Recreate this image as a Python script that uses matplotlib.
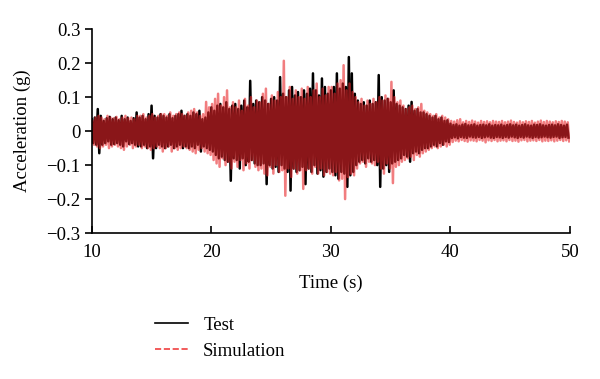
import numpy as np
import matplotlib
matplotlib.use('Agg')
from matplotlib import pyplot as plt
from matplotlib.lines import Line2D

plt.rcParams['font.family'] = ['Liberation Serif', 'DejaVu Serif']
plt.rcParams['font.size'] = 13.5

# Peak / trough values, one pair every 0.25 s (10 s to 50 s)
test_hi = [
    0.035, 0.040, 0.065, 0.045, 0.030, 0.038, 0.042, 0.035,
    0.040, 0.032, 0.045, 0.035, 0.040, 0.030, 0.038, 0.055,
    0.040, 0.045, 0.035, 0.050, 0.075, 0.045, 0.040, 0.050,
    0.045, 0.040, 0.050, 0.038, 0.045, 0.050, 0.060, 0.045,
    0.050, 0.045, 0.055, 0.050, 0.060, 0.035, 0.040, 0.055,
    0.070, 0.060, 0.075, 0.080, 0.070, 0.085, 0.065, 0.075,
    0.080, 0.065, 0.075, 0.090, 0.070, 0.148, 0.080, 0.090,
    0.085, 0.100, 0.090, 0.080, 0.095, 0.100, 0.090, 0.159,
    0.110, 0.100, 0.120, 0.130, 0.105, 0.115, 0.100, 0.120,
    0.110, 0.125, 0.170, 0.120, 0.105, 0.155, 0.130, 0.110,
    0.120, 0.130, 0.170, 0.125, 0.140, 0.130, 0.218, 0.170,
    0.110, 0.090, 0.080, 0.085, 0.075, 0.090, 0.080, 0.085,
    0.165, 0.100, 0.090, 0.095, 0.085, 0.120, 0.080, 0.075,
    0.070, 0.065, 0.075, 0.086, 0.060, 0.065, 0.055, 0.055,
    0.050, 0.045, 0.040, 0.045, 0.035, 0.040, 0.030, 0.032,
    0.022, 0.018, 0.020, 0.016, 0.019, 0.021, 0.017, 0.018,
    0.020, 0.016, 0.018, 0.019, 0.017, 0.020, 0.016, 0.018,
    0.017, 0.019, 0.016, 0.018, 0.020, 0.017, 0.019, 0.016,
    0.018, 0.020, 0.017, 0.016, 0.019, 0.018, 0.020, 0.017,
    0.016, 0.018, 0.019, 0.017, 0.020, 0.018, 0.016, 0.019,
]
test_lo = [
    -0.035, -0.040, -0.065, -0.040, -0.035, -0.030, -0.040, -0.038,
    -0.035, -0.040, -0.045, -0.030, -0.038, -0.035, -0.040, -0.045,
    -0.045, -0.040, -0.050, -0.045, -0.080, -0.050, -0.040, -0.045,
    -0.050, -0.045, -0.040, -0.050, -0.045, -0.040, -0.050, -0.045,
    -0.050, -0.045, -0.050, -0.040, -0.060, -0.045, -0.050, -0.055,
    -0.060, -0.070, -0.080, -0.075, -0.085, -0.090, -0.146, -0.080,
    -0.085, -0.110, -0.080, -0.100, -0.090, -0.085, -0.095, -0.100,
    -0.100, -0.095, -0.156, -0.100, -0.110, -0.105, -0.120, -0.100,
    -0.110, -0.120, -0.175, -0.110, -0.120, -0.115, -0.105, -0.156,
    -0.110, -0.120, -0.100, -0.125, -0.115, -0.134, -0.120, -0.110,
    -0.120, -0.130, -0.140, -0.120, -0.125, -0.164, -0.130, -0.120,
    -0.100, -0.090, -0.085, -0.095, -0.080, -0.090, -0.085, -0.100,
    -0.164, -0.110, -0.100, -0.120, -0.095, -0.090, -0.085, -0.080,
    -0.070, -0.075, -0.090, -0.065, -0.060, -0.065, -0.055, -0.050,
    -0.050, -0.045, -0.040, -0.045, -0.035, -0.040, -0.030, -0.032,
    -0.020, -0.018, -0.021, -0.017, -0.019, -0.020, -0.016, -0.018,
    -0.019, -0.017, -0.020, -0.018, -0.016, -0.019, -0.020, -0.017,
    -0.018, -0.020, -0.017, -0.019, -0.016, -0.018, -0.020, -0.017,
    -0.019, -0.016, -0.018, -0.020, -0.017, -0.019, -0.018, -0.016,
    -0.018, -0.019, -0.017, -0.016, -0.020, -0.018, -0.017, -0.019,
]
sim_hi = [
    0.030, 0.040, 0.045, 0.040, 0.035, 0.045, 0.040, 0.038,
    0.042, 0.035, 0.040, 0.045, 0.038, 0.040, 0.035, 0.045,
    0.045, 0.050, 0.040, 0.045, 0.050, 0.040, 0.045, 0.050,
    0.050, 0.045, 0.055, 0.045, 0.050, 0.055, 0.050, 0.045,
    0.055, 0.060, 0.065, 0.055, 0.045, 0.050, 0.086, 0.070,
    0.080, 0.095, 0.110, 0.075, 0.100, 0.120, 0.070, 0.085,
    0.070, 0.090, 0.060, 0.095, 0.075, 0.100, 0.070, 0.090,
    0.085, 0.110, 0.125, 0.080, 0.105, 0.090, 0.115, 0.100,
    0.207, 0.100, 0.130, 0.095, 0.120, 0.100, 0.125, 0.095,
    0.130, 0.100, 0.120, 0.140, 0.100, 0.125, 0.105, 0.130,
    0.130, 0.110, 0.140, 0.150, 0.194, 0.120, 0.140, 0.115,
    0.100, 0.085, 0.095, 0.075, 0.090, 0.080, 0.095, 0.085,
    0.100, 0.090, 0.105, 0.095, 0.145, 0.100, 0.085, 0.090,
    0.075, 0.065, 0.070, 0.075, 0.065, 0.070, 0.080, 0.060,
    0.055, 0.050, 0.045, 0.050, 0.040, 0.045, 0.040, 0.035,
    0.030, 0.028, 0.032, 0.035, 0.026, 0.030, 0.027, 0.031,
    0.028, 0.025, 0.030, 0.027, 0.029, 0.026, 0.030, 0.028,
    0.027, 0.030, 0.026, 0.028, 0.031, 0.027, 0.025, 0.029,
    0.026, 0.029, 0.027, 0.030, 0.025, 0.028, 0.031, 0.027,
    0.030, 0.028, 0.026, 0.029, 0.027, 0.030, 0.028, 0.026,
]
sim_lo = [
    -0.040, -0.045, -0.050, -0.045, -0.040, -0.050, -0.045, -0.040,
    -0.045, -0.050, -0.055, -0.045, -0.040, -0.050, -0.045, -0.040,
    -0.050, -0.045, -0.050, -0.055, -0.050, -0.045, -0.050, -0.060,
    -0.050, -0.045, -0.060, -0.050, -0.055, -0.050, -0.045, -0.050,
    -0.055, -0.060, -0.065, -0.055, -0.050, -0.060, -0.065, -0.070,
    -0.085, -0.095, -0.105, -0.080, -0.100, -0.090, -0.110, -0.090,
    -0.105, -0.085, -0.115, -0.095, -0.110, -0.085, -0.105, -0.115,
    -0.110, -0.125, -0.130, -0.105, -0.125, -0.100, -0.120, -0.115,
    -0.190, -0.110, -0.135, -0.110, -0.125, -0.115, -0.170, -0.115,
    -0.110, -0.125, -0.105, -0.125, -0.110, -0.130, -0.120, -0.125,
    -0.130, -0.120, -0.145, -0.140, -0.200, -0.135, -0.125, -0.130,
    -0.110, -0.095, -0.090, -0.105, -0.090, -0.095, -0.100, -0.090,
    -0.110, -0.125, -0.095, -0.110, -0.153, -0.105, -0.100, -0.090,
    -0.085, -0.080, -0.075, -0.085, -0.070, -0.075, -0.065, -0.060,
    -0.055, -0.050, -0.045, -0.050, -0.045, -0.040, -0.045, -0.040,
    -0.032, -0.028, -0.030, -0.026, -0.029, -0.031, -0.027, -0.028,
    -0.030, -0.026, -0.028, -0.033, -0.027, -0.029, -0.026, -0.030,
    -0.028, -0.027, -0.030, -0.026, -0.029, -0.028, -0.031, -0.027,
    -0.026, -0.030, -0.028, -0.027, -0.029, -0.026, -0.030, -0.028,
    -0.029, -0.027, -0.030, -0.028, -0.026, -0.029, -0.027, -0.030,
]

y_ticks = [-0.3, -0.2, -0.1, 0, 0.1, 0.2, 0.3]
y_tick_labels = ['\u22120.3', '\u22120.2', '\u22120.1', '0', '0.1', '0.2', '0.3']
x_ticks = [10, 20, 30, 40, 50]

step = 0.25
t = 10 + step * np.arange(len(test_hi))


def zigzag(hi, lo, shift):
    # alternate peak and trough so the record reads as a dense trace
    x = np.empty(2 * len(hi))
    y = np.empty(2 * len(hi))
    x[0::2] = t + shift
    x[1::2] = t + shift + step / 2
    y[0::2] = hi
    y[1::2] = lo
    return x, y


fig = plt.figure(figsize=(6, 3.79), dpi=100)
ax = fig.add_axes([0.153, 0.385, 0.797, 0.538])

tx, ty = zigzag(test_hi, test_lo, 0.0)
sx, sy = zigzag(sim_hi, sim_lo, step / 4)
ax.plot(tx, ty, color='black', lw=1.8)
ax.plot(sx, sy, color='#e8262a', lw=1.8, alpha=0.6)

ax.set_xlim(10, 50)
ax.set_ylim(-0.3, 0.3)
ax.set_xticks(x_ticks)
ax.set_yticks(y_ticks)
ax.set_yticklabels(y_tick_labels)
ax.spines['top'].set_visible(False)
ax.spines['right'].set_visible(False)
ax.tick_params(axis='x', direction='in', length=5, width=1.2, pad=8)
ax.tick_params(axis='y', direction='out', length=5, width=1.2, pad=3)
for s in ['left', 'bottom']:
    ax.spines[s].set_linewidth(1.2)
ax.set_xlabel('Time (s)', labelpad=10)
ax.set_ylabel('Acceleration (g)', labelpad=11)

handles = [Line2D([], [], color='black', lw=1.2),
           Line2D([], [], color='#f04040', lw=1.2, ls='--')]
fig.legend(handles, ['Test', 'Simulation'], loc='upper left',
           bbox_to_anchor=(0.245, 0.185), frameon=False,
           handlelength=1.8, labelspacing=0.5, borderaxespad=0)

plt.savefig('out.png', dpi=100)
